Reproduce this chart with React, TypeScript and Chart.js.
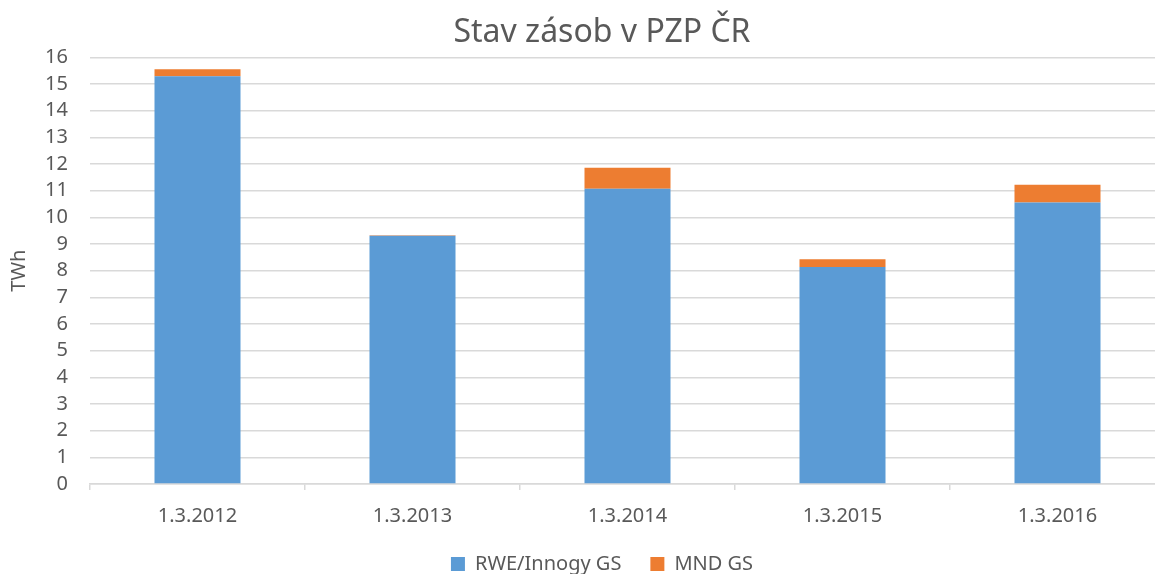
import React, { useEffect, useRef } from "react";
import { Chart, registerables } from "chart.js";

Chart.register(...registerables);

const categories = ["1.3.2012", "1.3.2013", "1.3.2014", "1.3.2015", "1.3.2016"];
const rweValues = [15.29, 9.31, 11.07, 8.14, 10.56];
const mndValues = [0.27, 0.02, 0.79, 0.29, 0.66];
const yTicks = [0, 1, 2, 3, 4, 5, 6, 7, 8, 9, 10, 11, 12, 13, 14, 15, 16];

const FONT = "'Noto Sans', sans-serif";
const TEXT = "#595959";
const GRID = "#d9d9d9";

export default function App() {
  const ref = useRef<HTMLCanvasElement | null>(null);

  useEffect(() => {
    document.body.style.margin = "0";
    if (!ref.current) return;
    const chart = new Chart(ref.current, {
      type: "bar",
      data: {
        labels: categories,
        datasets: [
          {
            label: "RWE/Innogy GS",
            data: rweValues,
            backgroundColor: "#5b9bd5",
            barPercentage: 0.4,
            categoryPercentage: 1,
          },
          {
            label: "MND GS",
            data: mndValues,
            backgroundColor: "#ed7d31",
            barPercentage: 0.4,
            categoryPercentage: 1,
          },
        ],
      },
      options: {
        animation: false,
        responsive: false,
        maintainAspectRatio: false,
        layout: { padding: { left: 0, right: 0, top: 14, bottom: -10 } },
        plugins: {
          title: {
            display: true,
            text: "Stav zásob v PZP ČR",
            color: TEXT,
            font: { family: FONT, size: 32, weight: "normal" },
            padding: { top: 0, bottom: 5 },
          },
          legend: {
            position: "bottom",
            labels: {
              color: TEXT,
              font: { family: FONT, size: 20 },
              boxWidth: 14,
              boxHeight: 14,
              padding: 29,
            },
          },
          tooltip: { enabled: false },
        },
        scales: {
          x: {
            stacked: true,
            border: { display: true, color: GRID, width: 1.5 },
            grid: {
              offset: true,
              drawOnChartArea: false,
              drawTicks: true,
              tickLength: 6,
              color: GRID,
              lineWidth: 1.5,
            },
            ticks: {
              color: TEXT,
              font: { family: FONT, size: 20 },
              padding: 14,
            },
            afterFit: (s: any) => {
              s.height = 41;
            },
          },
          y: {
            stacked: true,
            min: 0,
            max: 16,
            afterBuildTicks: (s: any) => {
              s.ticks = yTicks.map((v) => ({ value: v }));
            },
            border: { display: false },
            grid: { color: GRID, lineWidth: 1.5, drawTicks: false },
            ticks: {
              color: TEXT,
              font: { family: FONT, size: 20 },
              padding: 22,
              autoSkip: false,
            },
            title: {
              display: true,
              text: "TWh",
              color: TEXT,
              font: { family: FONT, size: 20 },
              padding: { top: 7, bottom: 0 },
            },
            afterFit: (s: any) => {
              s.width = 90;
            },
          },
          spacer: {
            type: "linear",
            position: "right",
            display: true,
            grid: { display: false },
            border: { display: false },
            ticks: { display: false },
            afterFit: (s: any) => {
              s.width = 39;
            },
          },
        },
      },
    });
    return () => chart.destroy();
  }, []);

  return (
    <div style={{ position: "absolute", left: 0, top: 0, width: 1155, height: 574, overflow: "hidden", background: "#fff" }}>
      <canvas ref={ref} width={1204} height={574} style={{ display: "block" }} />
    </div>
  );
}
